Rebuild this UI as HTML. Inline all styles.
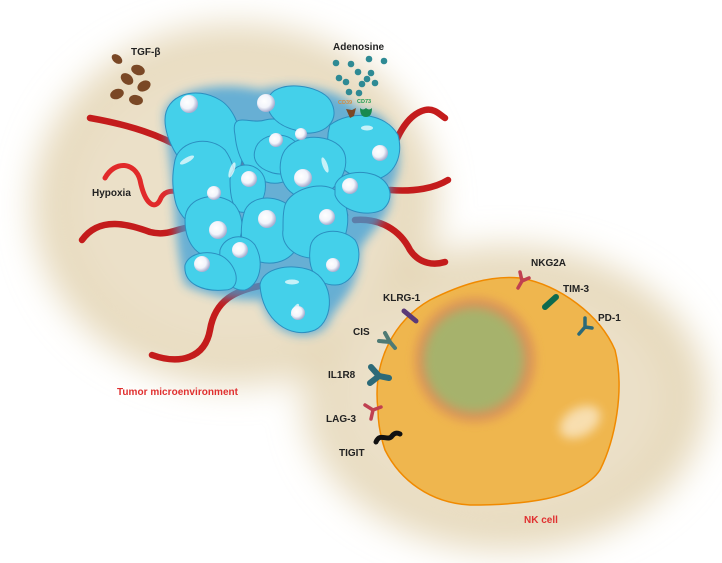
<!DOCTYPE html>
<html><head><meta charset="utf-8"><style>
html,body{margin:0;padding:0;background:#fff;}
svg{display:block;}
text{font-family:"Liberation Sans",sans-serif;font-weight:bold;}
</style></head><body>
<svg width="722" height="563" viewBox="0 0 722 563" xmlns="http://www.w3.org/2000/svg">
<defs>
<filter id="blur" x="-30%" y="-30%" width="160%" height="160%"><feGaussianBlur stdDeviation="18"/></filter>
<filter id="glow" x="-30%" y="-30%" width="160%" height="160%"><feGaussianBlur stdDeviation="5"/></filter>
<filter id="nb" x="-30%" y="-30%" width="160%" height="160%"><feGaussianBlur stdDeviation="5"/></filter>
<radialGradient id="nuc" cx="40%" cy="40%" r="60%"><stop offset="0" stop-color="#fff"/><stop offset="0.6" stop-color="#f2f4fb"/><stop offset="1" stop-color="#a8aed0"/></radialGradient>
</defs>
<!-- beige environment -->
<g filter="url(#blur)">
<ellipse cx="235" cy="205" rx="200" ry="178" fill="#e3d4b2"/>
<ellipse cx="505" cy="398" rx="200" ry="150" fill="#e3d4b2"/>
<ellipse cx="380" cy="320" rx="80" ry="60" fill="#e3d4b2"/>
<ellipse cx="235" cy="205" rx="175" ry="155" fill="#ebe0c8"/>
<ellipse cx="500" cy="398" rx="175" ry="125" fill="#ebe0c8"/>
</g>
<!-- vessels -->
<g fill="none" stroke="#c41c1c" stroke-width="6.5" stroke-linecap="round">
<path d="M90 118 C130 125 160 135 185 150 C220 165 260 160 285 175 C305 190 320 205 345 215"/>
<path d="M385 170 C395 140 405 115 425 110 C435 108 440 115 445 118"/>
<path d="M390 190 C415 192 435 188 448 180"/>
<path d="M355 220 C380 218 400 230 410 250 C420 265 435 265 445 262"/>
<path d="M82 240 C100 215 130 225 150 232 C165 236 175 230 185 228"/>
<path d="M152 355 C180 365 205 358 210 330 C215 300 235 290 265 285"/>
</g>
<path d="M105 178 C115 160 135 162 140 180 C145 205 155 210 160 200 C163 192 170 190 178 192" fill="none" stroke="#e12a2a" stroke-width="5" stroke-linecap="round"/>
<!-- tumor glow -->
<g fill="#3a9fd8" filter="url(#glow)" opacity="0.75">
<path d="M165 120 C160 90 220 80 260 90 C300 80 340 90 360 110 C395 110 410 160 390 190 C395 215 370 230 360 250 C360 290 340 300 330 320 C320 345 270 340 262 300 C240 300 220 300 185 285 C175 250 175 200 170 160Z"/>
</g>
<!-- tumor cells -->
<g fill="#44d0ea" stroke="#2b8fc0" stroke-width="1">
<path d="M165 120 C165 95 195 85 220 100 C245 115 250 170 230 185 C200 195 165 150 165 120Z"/>
<path d="M235 135 C230 110 250 125 265 120 C285 115 310 130 300 165 C290 195 240 190 235 135Z"/>
<path d="M270 95 C280 80 320 85 330 100 C345 125 315 140 295 130 C275 125 262 110 270 95Z"/>
<path d="M330 125 C350 110 385 112 398 135 C405 160 390 180 370 180 C345 178 320 155 330 125Z"/>
<path d="M255 150 C260 130 295 130 300 150 C303 170 285 178 270 172 C258 168 252 160 255 150Z"/>
<path d="M285 150 C300 130 340 135 345 155 C350 175 330 200 305 198 C280 195 275 165 285 150Z"/>
<path d="M175 160 C180 140 210 135 225 150 C240 170 240 210 230 225 C210 240 180 225 175 200 C172 185 172 175 175 160Z"/>
<path d="M230 180 C230 160 260 160 265 180 C268 200 255 215 240 212 C232 208 230 195 230 180Z"/>
<path d="M185 220 C185 195 220 190 235 205 C250 225 240 255 215 257 C195 258 185 240 185 220Z"/>
<path d="M245 210 C255 190 295 195 300 225 C305 250 285 268 260 262 C240 258 238 230 245 210Z"/>
<path d="M285 205 C290 190 320 180 335 190 C355 205 350 245 330 255 C305 265 280 250 283 230 C283 220 283 212 285 205Z"/>
<path d="M310 250 C310 230 340 225 355 240 C365 255 355 285 335 285 C315 285 308 268 310 250Z"/>
<path d="M335 185 C340 172 360 170 375 175 C392 182 395 200 382 210 C365 218 340 210 335 195Z"/>
<path d="M220 250 C225 235 245 232 255 245 C265 262 260 285 245 290 C230 292 218 275 220 250Z"/>
<path d="M185 265 C190 250 215 250 225 258 C240 270 240 290 225 290 C205 292 183 285 185 265Z"/>
<path d="M260 285 C262 268 290 263 310 270 C335 280 335 320 315 330 C290 340 262 320 260 285Z"/>
</g>
<g fill="#fff" opacity="0.7">
<ellipse cx="232" cy="170" rx="2.5" ry="8" transform="rotate(20 232 170)"/>
<ellipse cx="187" cy="160" rx="2.5" ry="8" transform="rotate(60 187 160)"/>
<ellipse cx="325" cy="165" rx="2.5" ry="8" transform="rotate(-20 325 165)"/>
<ellipse cx="292" cy="282" rx="7" ry="2.5"/>
<ellipse cx="367" cy="128" rx="6" ry="2.5"/>
<ellipse cx="295" cy="310" rx="2.5" ry="7" transform="rotate(30 295 310)"/>
</g>
<g fill="url(#nuc)">
<circle cx="189" cy="104" r="9"/><circle cx="266" cy="103" r="9"/><circle cx="276" cy="140" r="7"/><circle cx="301" cy="134" r="6"/>
<circle cx="380" cy="153" r="8"/><circle cx="249" cy="179" r="8"/><circle cx="303" cy="178" r="9"/><circle cx="214" cy="193" r="7"/>
<circle cx="267" cy="219" r="9"/><circle cx="218" cy="230" r="9"/><circle cx="327" cy="217" r="8"/><circle cx="350" cy="186" r="8"/>
<circle cx="240" cy="250" r="8"/><circle cx="202" cy="264" r="8"/><circle cx="333" cy="265" r="7"/><circle cx="298" cy="313" r="7"/>
</g>
<!-- TGF-beta -->
<g fill="#7a4826">
<ellipse cx="117" cy="59" rx="6" ry="4" transform="rotate(40 117 59)"/>
<ellipse cx="138" cy="70" rx="7" ry="5" transform="rotate(20 138 70)"/>
<ellipse cx="127" cy="79" rx="7" ry="5" transform="rotate(40 127 79)"/>
<ellipse cx="144" cy="86" rx="7" ry="5" transform="rotate(-30 144 86)"/>
<ellipse cx="117" cy="94" rx="7" ry="5" transform="rotate(-20 117 94)"/>
<ellipse cx="136" cy="100" rx="7" ry="5" transform="rotate(10 136 100)"/>
</g>
<text x="131" y="55" font-size="10" fill="#222">TGF-β</text>
<!-- adenosine -->
<text x="333" y="50" font-size="10" fill="#222">Adenosine</text>
<g fill="#2e8a94">
<circle cx="336" cy="63" r="3.3"/><circle cx="351" cy="64" r="3.3"/><circle cx="369" cy="59" r="3.3"/><circle cx="384" cy="61" r="3.3"/>
<circle cx="339" cy="78" r="3.3"/><circle cx="358" cy="72" r="3.3"/><circle cx="371" cy="73" r="3.3"/><circle cx="375" cy="83" r="3.3"/>
<circle cx="346" cy="82" r="3.3"/><circle cx="362" cy="84" r="3.3"/><circle cx="349" cy="92" r="3.3"/><circle cx="359" cy="93" r="3.3"/>
<circle cx="367" cy="79" r="3.3"/>
</g>
<text x="338" y="104" font-size="5.5" fill="#d08a40" font-weight="normal">CD39</text>
<text x="357" y="103" font-size="5.5" fill="#1a9a50" font-weight="normal">CD73</text>
<path d="M346 109 L352 110 L356 108 L354 116 L350 118 Z" fill="#7a4826"/>
<path d="M360 108 Q363 111 366 108 Q369 111 372 108 Q372 117 366 117 Q360 117 360 108Z" fill="#188a50"/>
<text x="92" y="196" font-size="10" fill="#222">Hypoxia</text>
<text x="117" y="395" font-size="10" fill="#e03030" font-weight="normal" textLength="121">Tumor microenvironment</text>
<!-- NK cell -->
<path d="M378 410 C372 360 395 320 430 300 C460 285 490 275 520 278 C560 285 600 315 615 350 C625 390 615 440 600 470 C580 500 520 505 470 505 C430 503 400 480 385 450 C380 435 378 422 378 410Z" fill="#efb64e" stroke="#f08a00" stroke-width="1.5"/>
<ellipse cx="475" cy="360" rx="60" ry="62" fill="#d88e5a" filter="url(#nb)" opacity="0.85"/>
<ellipse cx="474" cy="360" rx="50" ry="52" fill="#a6b26c" filter="url(#nb)"/>
<ellipse cx="580" cy="422" rx="22" ry="14" fill="#fff" opacity="0.55" filter="url(#nb)" transform="rotate(-30 580 422)"/>
<!-- receptors -->
<line x1="404" y1="311" x2="416" y2="321" stroke="#5a3a78" stroke-width="5" stroke-linecap="round"/>
<g fill="none" stroke-linecap="round">
<path d="M395 348 L390 342 M390 342 L385 333 M390 342 L379 341" stroke="#4e7a74" stroke-width="4"/>
<path d="M389 378 L379 376 M379 376 L371 367 M379 376 L370 383" stroke="#2c6a78" stroke-width="6"/>
<path d="M381 407 L373 410 M373 410 L365 405 M373 410 L371 419" stroke="#c04050" stroke-width="3.5"/>
<path d="M376 442 C380 432 388 442 392 436 C395 432 398 433 400 434" stroke="#111" stroke-width="5"/>
<path d="M518 288 L522 281 M522 281 L520 272 M522 281 L529 278" stroke="#c04050" stroke-width="3.5"/>
<line x1="545" y1="307" x2="556" y2="297" stroke="#0e6a4e" stroke-width="6"/>
<path d="M579 334 L585 327 M585 327 L585 318 M585 327 L592 328" stroke="#2c6a78" stroke-width="3.5"/>
</g>
<g font-size="10" fill="#222">
<text x="383" y="301">KLRG-1</text>
<text x="353" y="335">CIS</text>
<text x="328" y="378">IL1R8</text>
<text x="326" y="422">LAG-3</text>
<text x="339" y="456">TIGIT</text>
<text x="531" y="266">NKG2A</text>
<text x="563" y="292">TIM-3</text>
<text x="598" y="321">PD-1</text>
</g>
<text x="524" y="523" font-size="10" fill="#e03030" font-weight="normal">NK cell</text>
</svg>
</body></html>
